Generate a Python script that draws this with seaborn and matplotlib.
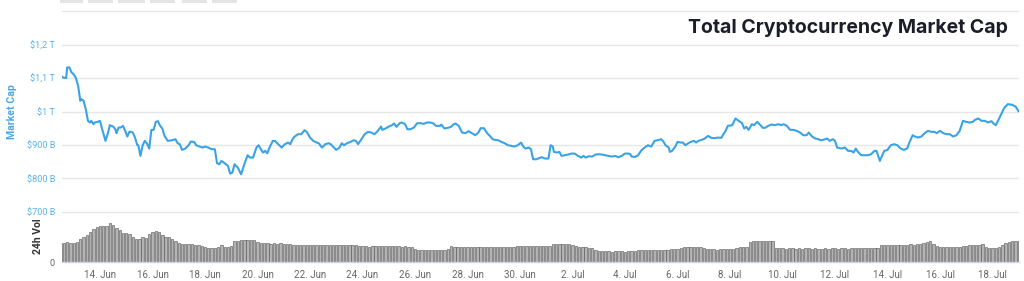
import numpy as np
import pandas as pd
import matplotlib
matplotlib.use("Agg")
import matplotlib.pyplot as plt
import matplotlib.dates as mdates
from matplotlib.ticker import FuncFormatter
from matplotlib.patches import Rectangle
import seaborn as sns

sns.set_theme(style="white")
plt.rcParams['font.family'] = ['Roboto', 'DejaVu Sans']

# ---------------- data ----------------
start = pd.Timestamp("2022-06-12 12:00")

cap_hours = [0, 2, 5, 6, 8, 10, 12, 14, 16, 18, 19, 21, 23, 25, 27, 28, 30, 31, 34, 36, 38, 41, 43, 45, 48, 50, 51, 53, 55, 57, 59, 61, 63, 66, 68, 70, 71, 73, 75, 77, 79, 81, 83, 85, 87, 89, 91, 93, 95, 98, 102, 105, 107, 109, 111, 114, 117, 119, 122, 124, 127, 130, 132, 135, 138, 141, 143, 145, 147, 150, 153, 155, 157, 159, 162, 165, 167, 169, 171, 173,
             176, 179, 181, 184, 185, 187, 189, 191, 194, 196, 199, 202, 205, 208, 210, 212, 214, 217, 220, 223, 225, 228, 231, 234, 236, 239, 242, 245, 247, 249, 252, 255, 257, 259, 262, 265, 268, 270, 272, 275, 278, 281, 284, 287, 290, 293, 294, 297, 300, 303, 305, 307, 310, 312, 315, 317, 320, 323, 326, 329, 332, 335, 338, 341, 343, 347,
             348, 351, 355, 357, 359, 361, 364, 367, 370, 373, 376, 379, 382, 384, 387, 390, 393, 395, 397, 400, 403, 406, 409, 412, 415, 418, 421, 423, 425, 428, 430, 432, 435, 438, 440, 443, 446, 448, 450, 451, 454, 456, 458, 461, 464, 467, 470, 473, 476, 478, 480, 483, 486, 489, 492, 495, 498, 501, 504, 507, 510, 513, 516, 519, 521,
             522, 525, 528, 531, 534, 537, 540, 543, 546, 549, 551, 553, 556, 557, 559, 562, 564, 567, 569, 571, 574, 576, 579, 581, 583, 586, 589, 592, 595, 598, 601, 604, 606, 608, 610, 614, 617, 620, 623, 625, 627, 629, 632, 634, 637, 639, 642, 644, 647, 650, 653, 656, 659, 661, 664, 667, 670, 673, 676, 679, 682, 684, 687, 690, 693, 694,
             696, 699, 701, 703, 706, 708, 710, 714, 717, 720, 723, 725, 727, 729, 732, 735, 738, 741, 744, 746, 749, 751, 753, 756, 759, 762, 765, 768, 771, 774, 776, 779, 781, 784, 787, 790, 793, 796, 799, 801, 804, 807, 810, 813, 816, 819, 822, 825, 828, 831, 834, 836, 839, 842, 845, 848, 851, 853, 855, 857, 860, 863, 866, 870, 873, 876]

cap_values = [1109, 1102, 1100, 1132, 1132, 1117, 1111, 1100, 1077, 1032, 1037, 1032, 1007, 972, 967, 972, 962, 967, 969, 972, 947, 912, 932, 959, 955, 947, 935, 952, 952, 957, 942, 925, 940, 937, 922, 900, 899, 867, 899, 912, 904, 889, 945, 945, 969, 971, 957, 949, 927, 912, 914, 917, 905, 902, 885, 889, 899, 910, 909, 899, 895, 892, 895, 892, 887, 887, 845, 842, 852, 845, 837, 814, 817, 842, 832, 812, 832, 852, 869, 862,
              862, 892, 899, 882, 877, 882, 875, 892, 912, 912, 902, 892, 902, 907, 902, 917, 925, 932, 932, 944, 939, 922, 912, 907, 905, 892, 902, 905, 902, 895, 885, 892, 905, 899, 905, 909, 914, 912, 902, 917, 932, 939, 937, 932, 942, 955, 945, 949, 955, 959, 964, 954, 965, 967, 962, 947, 947, 952, 965, 965, 963, 967, 967, 964, 957, 957,
              961, 949, 952, 954, 961, 964, 957, 937, 935, 941, 935, 929, 937, 950, 950, 935, 925, 917, 915, 914, 909, 905, 899, 897, 895, 899, 907, 895, 889, 892, 887, 857, 857, 861, 863, 859, 859, 899, 895, 879, 877, 879, 867, 869, 871, 874, 874, 867, 862, 867, 862, 866, 865, 871, 872, 871, 869, 867, 865, 867, 863, 867, 874, 874, 872,
              865, 864, 869, 884, 892, 899, 895, 912, 914, 917, 911, 899, 892, 879, 882, 895, 909, 907, 907, 899, 905, 909, 912, 907, 912, 915, 919, 927, 921, 920, 922, 921, 932, 942, 957, 959, 979, 972, 965, 949, 954, 945, 962, 959, 969, 962, 951, 951, 957, 961, 959, 962, 959, 962, 957, 945, 945, 942, 937, 929, 929, 937, 925, 919, 917, 915,
              914, 917, 919, 912, 917, 912, 892, 889, 892, 882, 882, 877, 889, 879, 869, 869, 869, 872, 882, 882, 852, 867, 882, 885, 899, 902, 899, 889, 885, 889, 907, 929, 925, 922, 925, 935, 942, 939, 939, 935, 942, 935, 932, 932, 925, 929, 942, 972, 969, 967, 969, 975, 979, 972, 972, 967, 971, 964, 959, 972, 992, 1012, 1022, 1020, 1015, 1000]

# 24h volume in $B, one bar every 3 hours from start
vol_step_hours = 3
vol_values = [76, 76, 80, 76, 76, 80, 91, 100, 108, 120,
              132, 140, 144, 146, 146, 156, 147, 136, 127, 118,
              116, 114, 100, 91, 92, 100, 98, 112, 120, 123,
              120, 108, 102, 100, 94, 86, 78, 73, 72, 72,
              72, 70, 68, 64, 62, 58, 57, 57, 62, 67,
              62, 59, 64, 83, 86, 89, 88, 90, 88, 89,
              80, 76, 75, 75, 74, 75, 74, 75, 71, 71,
              71, 70, 70, 69, 70, 69, 69, 68, 69, 68,
              68, 69, 68, 67, 68, 68, 67, 68, 68, 68,
              67, 64, 63, 63, 62, 63, 63, 63, 64, 64,
              64, 63, 63, 63, 62, 63, 62, 62, 54, 50,
              49, 49, 48, 49, 49, 49, 50, 49, 52, 63,
              60, 59, 60, 60, 61, 60, 60, 60, 61, 60,
              60, 61, 60, 61, 60, 60, 61, 60, 61, 63,
              63, 63, 64, 63, 63, 64, 63, 64, 63, 64,
              73, 74, 73, 73, 74, 72, 70, 64, 59, 59,
              59, 58, 56, 48, 44, 43, 43, 43, 42, 43,
              43, 43, 42, 43, 43, 44, 49, 49, 50, 49,
              48, 48, 49, 49, 50, 50, 52, 52, 52, 58,
              61, 61, 62, 61, 61, 60, 58, 52, 51, 51,
              50, 51, 51, 51, 52, 54, 58, 61, 61, 62,
              81, 84, 84, 84, 84, 84, 84, 84, 55, 56,
              55, 54, 55, 55, 54, 55, 53, 55, 55, 54,
              55, 54, 52, 55, 54, 55, 55, 54, 55, 55,
              54, 55, 55, 55, 56, 55, 55, 56, 56, 58,
              68, 68, 68, 69, 68, 70, 68, 69, 70, 72,
              70, 72, 74, 76, 81, 86, 72, 64, 62, 61,
              61, 60, 61, 62, 61, 64, 66, 68, 68, 68,
              70, 71, 60, 55, 55, 55, 60, 70, 78, 82,
              84, 86, 84]

cap_ticks = [700, 800, 900, 1000, 1100, 1200, 1300]
cap_tick_labels = ["$700 B", "$800 B", "$900 B", "$1 T", "$1,1 T", "$1,2 T", ""]
date_ticks = pd.date_range("2022-06-14", "2022-07-18", freq="2D")
title = "Total Cryptocurrency Market Cap"

# ---------------- frames ----------------
cap_df = pd.DataFrame({
    "time": start + pd.to_timedelta(cap_hours, unit="h"),
    "cap": cap_values,
})
vol_df = pd.DataFrame({
    "time": start + pd.to_timedelta(np.arange(len(vol_values)) * vol_step_hours, unit="h"),
    "vol": vol_values,
})

# ---------------- figure ----------------
W, H = 1024, 281
fig = plt.figure(figsize=(W / 100, H / 100), dpi=100)
fig.patch.set_facecolor("white")

left_px, right_px = 62, 1019
top_px, bot_px = 8.0, 215.0          # cap axes extent (with margin)
y_lo, y_hi = 690, 1310              # cap range mapped onto that extent
ax_cap = fig.add_axes([left_px / W, 1 - bot_px / H, (right_px - left_px) / W, (bot_px - top_px) / H])
ax_vol = fig.add_axes([left_px / W, 1 - 262 / H, (right_px - left_px) / W, 47 / H])

px_per_day = 26.25
x_left = mdates.date2num(pd.Timestamp("2022-06-14")) - (100 - left_px) / px_per_day
x_right = x_left + (right_px - left_px) / px_per_day

line_color = "#3aa3e6"
label_blue = "#59b2ea"

sns.lineplot(data=cap_df, x="time", y="cap", ax=ax_cap, color=line_color, linewidth=1.5)
ax_cap.set_xlim(x_left, x_right)
ax_cap.set_ylim(y_lo, y_hi)
ax_cap.set_yticks(cap_ticks)
ax_cap.set_yticklabels(cap_tick_labels)
ax_cap.tick_params(axis="y", length=0, pad=5, labelsize=6.6, labelcolor=label_blue)
ax_cap.set_xticks([])
ax_cap.set_xlabel("")
ax_cap.set_ylabel("")
ax_cap.grid(axis="y", color="#e6e6e6", linewidth=1)
ax_cap.set_axisbelow(True)
for s in ax_cap.spines.values():
    s.set_visible(False)
ax_cap.patch.set_alpha(0)

bar_x = mdates.date2num(vol_df["time"])
ax_vol.bar(bar_x, vol_df["vol"], width=0.09, color="#b3b3b3", edgecolor="#505050", linewidth=0.4, align="center")
ax_vol.set_xlim(x_left, x_right)
ax_vol.set_ylim(0, 188)
ax_vol.set_yticks([0])
ax_vol.set_yticklabels(["0"])
ax_vol.tick_params(axis="y", length=0, pad=5, labelsize=6.6, labelcolor="#666666")
ax_vol.set_xticks(mdates.date2num(date_ticks))
ax_vol.xaxis.set_major_formatter(FuncFormatter(lambda v, p: f"{mdates.num2date(v).day}. {mdates.num2date(v).strftime('%b')}"))
ax_vol.tick_params(axis="x", length=4, width=1, color="#ccd6eb", pad=1.5, labelsize=7, labelcolor="#666666")
for name, s in ax_vol.spines.items():
    s.set_visible(name == "bottom")
ax_vol.spines["bottom"].set_color("#ccd6eb")
ax_vol.spines["bottom"].set_linewidth(1)
ax_vol.patch.set_alpha(0)

# texts
fig.text(1008 / W, 1 - 28 / H, title, ha="right", va="center", fontsize=14,
         fontweight="bold", color="#1b1d28", family=["Inter", "DejaVu Sans"])
fig.text(12 / W, 1 - 112 / H, "Market Cap", rotation=90, ha="center", va="center",
         fontsize=7.6, fontweight="bold", color="#4aa8e6")
fig.text(38 / W, 1 - 236 / H, "24h Vol", rotation=90, ha="center", va="center",
         fontsize=7.5, fontweight="bold", color="#333333")

# small toolbar buttons cut off at the top
for bx, bw in [(60, 23), (88, 25), (118, 27), (150, 25), (182, 25), (212, 25)]:
    fig.add_artist(Rectangle((bx / W, 1 - 2.5 / H), bw / W, 2.5 / H, transform=fig.transFigure,
                             facecolor="#e4e4e4", edgecolor="none"))

fig.savefig("out.png", dpi=100)
